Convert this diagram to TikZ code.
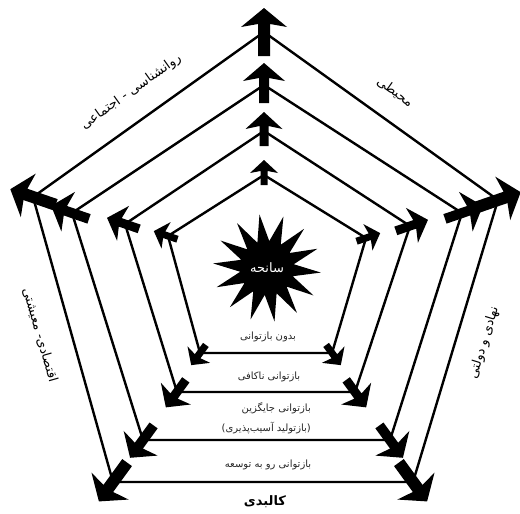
\documentclass[tikz,border=0pt]{standalone}
\usepackage{fontspec}
\newfontfamily\fa[Script=Arabic]{DejaVu Sans}
\TeXXeTstate=1
\usetikzlibrary{shapes.geometric}
% #1 coord, #2 angle, #3 back, #4 fwd, #5 head len, #6 stem w, #7 head w, #8 sweep
\newcommand\blockarrow[8]{%
  \fill[shift={(#1)},rotate=#2] (-#3,-#6/2) -- (#4,-#6/2) -- (#4-#8,-#7/2) -- (#4+#5,0)
    -- (#4-#8,#7/2) -- (#4,#6/2) -- (-#3,#6/2) -- cycle;}
\newcommand\levelarrows[7]{%
  \blockarrow{t#1}{90}{#2}{#3}{#4}{#5}{#6}{#7}%
  \blockarrow{l#1}{161}{#2}{#3}{#4}{#5}{#6}{#7}%
  \blockarrow{r#1}{19}{#2}{#3}{#4}{#5}{#6}{#7}%
  \blockarrow{bl#1}{234}{#2}{#3}{#4}{#5}{#6}{#7}%
  \blockarrow{br#1}{306}{#2}{#3}{#4}{#5}{#6}{#7}}
\tikzset{
  edge/.style={line width=2.4pt, line join=miter},
  inlab/.style={font=\fa\fontsize{10}{12}\selectfont, text=black!85, inner sep=1pt},
  sidelab/.style={font=\fa\fontsize{13}{15}\selectfont, text=black, inner sep=1pt},
}
\begin{document}
\begin{tikzpicture}[x=1pt,y=1pt]
\useasboundingbox (0,0) rectangle (520,-514);
% vertices
\coordinate (t1) at (264,-32);  \coordinate (l1) at (33,-197);  \coordinate (r1) at (498,-200);
\coordinate (bl1) at (113,-482); \coordinate (br1) at (413,-482);
\coordinate (t2) at (264,-85);  \coordinate (l2) at (72,-213);  \coordinate (r2) at (462,-213);
\coordinate (bl2) at (143,-440); \coordinate (br2) at (390,-440);
\coordinate (t3) at (264,-131); \coordinate (l3) at (125,-224); \coordinate (r3) at (410,-226);
\coordinate (bl3) at (177,-392); \coordinate (br3) at (355,-392);
\coordinate (t4) at (264,-175); \coordinate (l4) at (168,-236); \coordinate (r4) at (366,-238);
\coordinate (bl4) at (200,-353); \coordinate (br4) at (332,-353);
% pentagons
\foreach \i in {1,2,3,4}
  \draw[edge] (t\i) -- (r\i) -- (br\i) -- (bl\i) -- (l\i) -- cycle;
% block arrows
\levelarrows{1}{24}{8}{16}{12}{46}{3}
\levelarrows{2}{18}{7}{15}{10}{42}{3}
\levelarrows{3}{15}{5}{14}{9}{37}{3}
\levelarrows{4}{10}{4}{11}{7}{28}{2}
% star
\node[star, star points=14, star point ratio=2, minimum size=108pt, fill=black, inner sep=0pt, rotate=8] (star) at (267,-268) {};
\node[font=\fa\fontsize{13}{15}\selectfont, text=white] (sanehe) at (star.center) {\beginR سانحه\endR};
% inner labels
\node[inlab] (a) at (268,-337) {\beginR بدون بازتوانی\endR};
\node[inlab] (b) at (269,-377) {\beginR بازتوانی ناکافی\endR};
\node[inlab, anchor=east] (c1) at (312,-408) {\beginR بازتوانی جایگزین\endR};
\node[inlab, anchor=east] (c2) at (312,-428) {\beginR(بازتولید آسیب‌پذیری)\endR};
\node[inlab] (d) at (268,-465) {\beginR بازتوانی رو به توسعه\endR};
% side labels
\node[sidelab, font=\fa\fontsize{13}{15}\selectfont\bfseries] (k) at (265,-502) {\beginR کالبدی\endR};
\node[sidelab, rotate=35.5] (rav) at (131,-92) {\beginR روانشناسی - اجتماعی\endR};
\node[sidelab, rotate=-35.5] (moh) at (395,-92) {\beginR محیطی\endR};
\node[sidelab, rotate=-74] (eq) at (40,-335) {\beginR اقتصادی- معیشتی\endR};
\node[sidelab, rotate=73] (nah) at (484,-343) {\beginR نهادی و دولتی\endR};
\end{tikzpicture}
\end{document}
